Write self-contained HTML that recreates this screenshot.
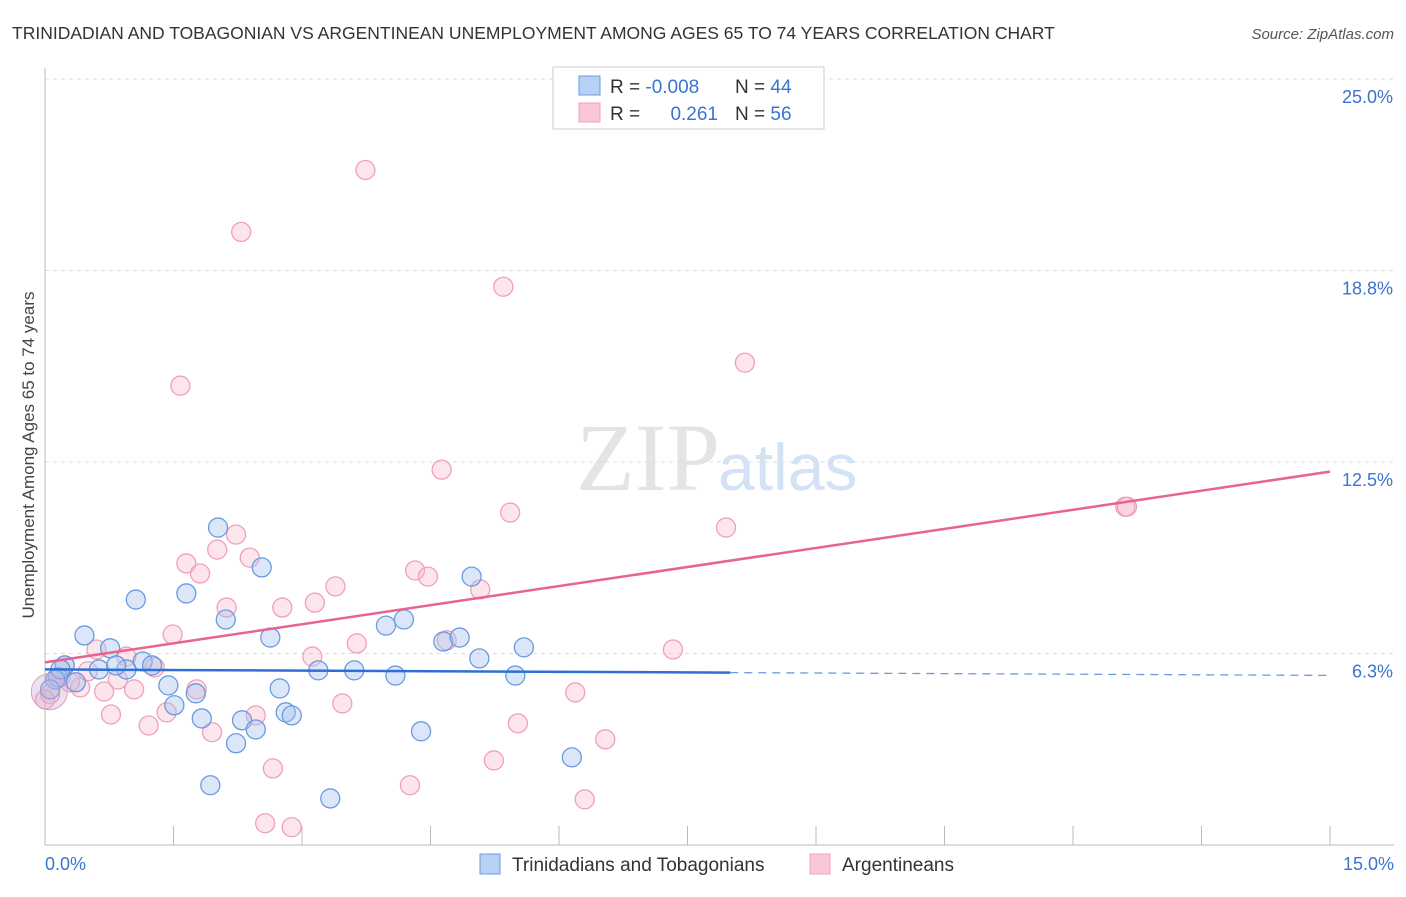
<!DOCTYPE html>
<html><head><meta charset="utf-8"><style>
body{margin:0;background:#fff;font-family:"Liberation Sans",sans-serif}
</style></head><body>
<svg width="1406" height="892" viewBox="0 0 1406 892" xmlns="http://www.w3.org/2000/svg" font-family="Liberation Sans, sans-serif">
<text x="12" y="39" font-size="17.5" fill="#333">TRINIDADIAN AND TOBAGONIAN VS ARGENTINEAN UNEMPLOYMENT AMONG AGES 65 TO 74 YEARS CORRELATION CHART</text>
<text x="1394" y="39" font-size="15" fill="#555" font-style="italic" text-anchor="end">Source: ZipAtlas.com</text>
<text x="720" y="490" font-size="96" fill="#e4e4e4" text-anchor="end" font-family="Liberation Serif, serif">ZIP</text>
<text x="718" y="490" font-size="66" fill="#d4e2f5">atlas</text>
<g id="grid"></g>
<g id="axes"></g>
<g id="marks"></g>
<text transform="translate(34,455) rotate(-90)" font-size="17" fill="#444" text-anchor="middle">Unemployment Among Ages 65 to 74 years</text>
<text x="45" y="870" font-size="18" fill="#3b73d0">0.0%</text>
<text x="1394" y="870" font-size="18" fill="#3b73d0" text-anchor="end">15.0%</text>
<g>
<rect x="553" y="67" width="271" height="62" fill="#fff" stroke="#ccc"/>
<rect x="579" y="76" width="21" height="19" fill="#b8d0f3" stroke="#6a9be0"/>
<rect x="579" y="103" width="21" height="19" fill="#f9c6d5" stroke="#f0a0b8"/>
<text x="610" y="93" font-size="19" fill="#333">R = <tspan fill="#3b73d0">-0.008</tspan></text>
<text x="735" y="93" font-size="19" fill="#333">N = <tspan fill="#3b73d0">44</tspan></text>
<text x="610" y="120" font-size="19" fill="#333">R = </text>
<text x="718" y="120" font-size="19" fill="#3b73d0" text-anchor="end">0.261</text>
<text x="735" y="120" font-size="19" fill="#333">N = <tspan fill="#3b73d0">56</tspan></text>
</g>
<g>
<rect x="480" y="854" width="20" height="20" fill="#b8d0f3" stroke="#6a9be0"/>
<text x="512" y="871" font-size="19" fill="#333">Trinidadians and Tobagonians</text>
<rect x="810" y="854" width="20" height="20" fill="#f9c6d5" stroke="#f0a0b8"/>
<text x="842" y="871" font-size="19" fill="#333">Argentineans</text>
</g>
</svg>
<script>
const yTicks=[25.0,18.8,12.5,6.3];
const yTickVals=[25,18.75,12.5,6.25];
const xTicks=[0,1.5,3,4.5,6,7.5,9,10.5,12,13.5,15];
const blueX=[2.02,2.53,1.06,1.65,2.11,0.46,0.76,2.63,3.98,4.19,4.65,4.84,4.98,5.59,5.07,1.14,1.25,0.23,0.63,0.95,0.83,0.15,0.36,1.44,1.76,2.74,3.19,3.61,4.09,5.49,1.51,1.83,2.30,2.46,2.81,2.88,2.23,4.39,6.15,1.93,3.33,0.12,0.06,0.18];
const blueY=[10.36,9.06,8.01,8.21,7.36,6.84,6.42,6.77,7.16,7.36,6.64,6.77,8.76,6.45,6.09,5.99,5.86,5.86,5.73,5.73,5.86,5.47,5.31,5.21,4.95,5.11,5.70,5.70,5.53,5.53,4.56,4.13,4.07,3.77,4.33,4.23,3.32,3.71,2.86,1.95,1.52,5.40,5.08,5.73];
const pinkX=[3.74,2.29,5.35,8.17,1.58,4.63,12.61,5.43,7.95,2.23,2.01,2.39,1.65,1.81,4.32,4.47,3.39,5.08,2.12,2.77,3.15,1.49,0.60,0.95,1.28,3.64,4.69,3.12,7.33,0.23,0.50,0.85,0.41,0.69,1.04,1.77,6.19,3.47,0.77,1.42,2.46,1.21,1.95,5.52,6.54,2.66,5.24,4.26,6.30,2.57,2.88,0.06,0.0,0.29,12.63,0.18];
const pinkY=[22.03,20.01,18.22,15.74,14.99,12.25,11.04,10.85,10.36,10.13,9.64,9.38,9.19,8.86,8.96,8.76,8.44,8.34,7.75,7.75,7.91,6.87,6.38,6.15,5.80,6.58,6.68,6.15,6.38,5.86,5.67,5.40,5.14,5.01,5.08,5.08,4.98,4.62,4.26,4.33,4.23,3.90,3.68,3.97,3.45,2.50,2.76,1.95,1.49,0.71,0.58,4.92,4.75,5.31,11.04,5.47];
const blueTrend=[5.73,-0.013];
const pinkTrend=[5.96,0.415];
const NS='http://www.w3.org/2000/svg';
const xs=v=>45+v*(1285/15);
const ys=v=>845-v*(766/25);
function mk(t,a,p){const e=document.createElementNS(NS,t);for(const k in a)e.setAttribute(k,a[k]);p.appendChild(e);return e;}
const grid=document.getElementById('grid'),axes=document.getElementById('axes'),marks=document.getElementById('marks');
yTickVals.forEach((v,i)=>{
 const l=mk('line',{x1:45,x2:1394,y1:ys(v),y2:ys(v),stroke:'#ddd','stroke-dasharray':'4,4'},grid);
 
 
 const t=mk('text',{x:1393,y:ys(v)+24,'font-size':18,fill:'#3b73d0','text-anchor':'end'},grid);
 t.textContent=yTicks[i].toFixed(1)+'%';
 
 
});
const ax=mk('line',{x1:45,x2:45,y1:68,y2:845,stroke:'#bbb'},axes);


const bx=mk('line',{x1:45,x2:1394,y1:845,y2:845,stroke:'#bbb'},axes);


xTicks.forEach(v=>{const t=mk('line',{x1:xs(v),x2:xs(v),y1:826,y2:845,stroke:'#bbb'},axes);
 
 });
function pts(X,Y,fill,stroke,name){X.forEach((x,i)=>{const c=mk('circle',{cx:xs(x),cy:ys(Y[i]),r:9.5,fill:fill,stroke:stroke,'stroke-width':1.3},marks);
 
 });}
pts(pinkX,pinkY,'rgba(248,180,200,0.35)','#f0a0b8','argentinean-point');
pts(blueX,blueY,'rgba(164,196,240,0.4)','#6a9be0','trinidadian-point');
const big1=mk('circle',{cx:xs(0.05),cy:ys(5.0),r:18,fill:'rgba(200,170,210,0.35)',stroke:'#e0a0c0'},marks);


const pl=mk('line',{x1:xs(0),y1:ys(pinkTrend[0]),x2:xs(15),y2:ys(pinkTrend[0]+pinkTrend[1]*15),stroke:'#e8638f','stroke-width':2.5},marks);


const bl=mk('line',{x1:xs(0),y1:ys(blueTrend[0]),x2:xs(8),y2:ys(blueTrend[0]+blueTrend[1]*8),stroke:'#2e6fd6','stroke-width':2.5},marks);


const bd=mk('line',{x1:xs(8),y1:ys(blueTrend[0]+blueTrend[1]*8),x2:xs(15),y2:ys(blueTrend[0]+blueTrend[1]*15),stroke:'#6a9be0','stroke-width':1.3,'stroke-dasharray':'8,6'},marks);


</script>
</body></html>
